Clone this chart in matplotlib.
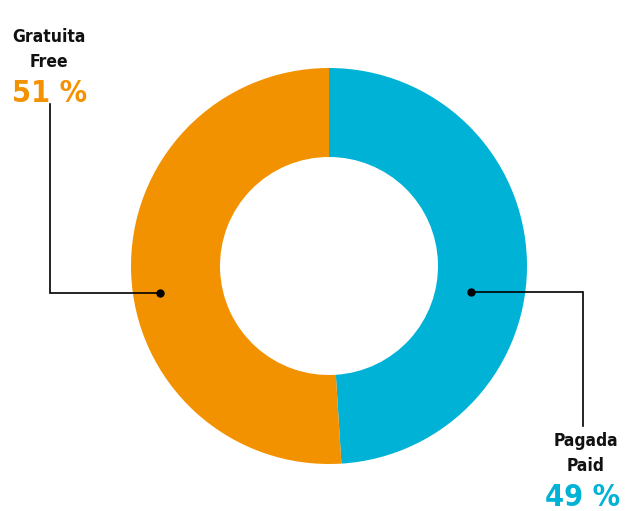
import matplotlib.pyplot as plt

labels_es = ["Pagada", "Gratuita"]
labels_en = ["Paid", "Free"]
shares = [49, 51]
colors = ["#00b2d6", "#f39200"]

W, H = 625, 511
fig = plt.figure(figsize=(W / 100, H / 100), dpi=100)
ax = fig.add_axes([0, 0, 1, 1])

# donut, clockwise from 12 o'clock
cx, cy = 329, H - 266
ax.pie(shares, colors=colors, startangle=90, counterclock=False,
       radius=198, center=(cx, cy), frame=True,
       wedgeprops=dict(width=89, linewidth=0))
ax.set_xlim(0, W)
ax.set_ylim(0, H)
ax.set_aspect("equal")
ax.axis("off")

font = dict(family="DejaVu Sans", stretch="condensed", weight="bold")

# leader lines: (dot, elbow, end)
leaders = [
    [(471, 292), (583, 292), (583, 426)],
    [(160, 293), (50, 293), (50, 104)],
]
label_pos = [(586, 441), (49, 37)]

for i in range(2):
    pts = leaders[i]
    xs = [p[0] for p in pts]
    ys = [H - p[1] for p in pts]
    ax.plot(xs, ys, color="black", lw=1.2, solid_joinstyle="miter")
    ax.plot(xs[0], ys[0], "o", color="black", ms=5)
    tx, ty = label_pos[i]
    ax.text(tx, H - ty, labels_es[i], ha="center", va="center",
            fontsize=12.5, color="#111111", **font)
    ax.text(tx, H - ty - 25, labels_en[i], ha="center", va="center",
            fontsize=12.5, color="#111111", **font)
    ax.text(tx - 3 if i == 0 else tx + 1, H - ty - 56, f"{shares[i]} %",
            ha="center", va="center", fontsize=22, color=colors[i], **font)

fig.savefig("out.png", dpi=100)
